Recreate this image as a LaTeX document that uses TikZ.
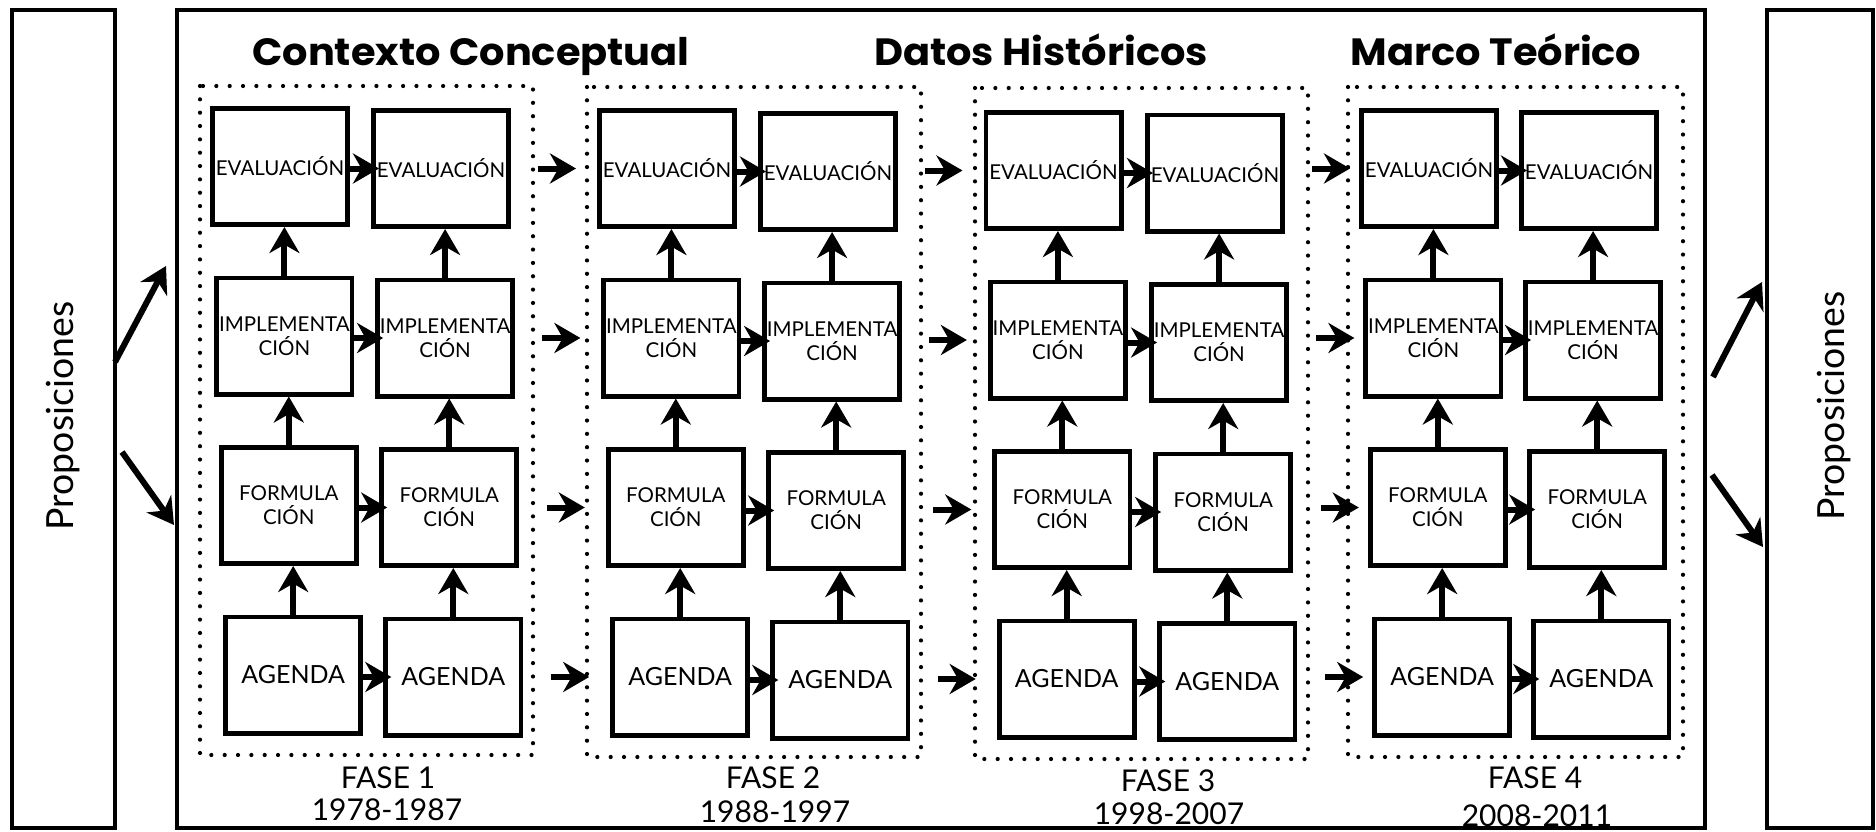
\documentclass[tikz,border=0pt]{standalone}
\usepackage{fontspec}
\setmainfont{Lato}
\newfontfamily\ttlfont{Poppins}
\usetikzlibrary{arrows.meta}
\newcommand\rowtxt[1]{\ifcase#1 EVALUACIÓN\or IMPLEMENTA\\CIÓN\or FORMULA\\CIÓN\or {\fontsize{12.5}{15}\selectfont AGENDA}\fi}
\newcommand\widetitle[1]{\scalebox{1.05}[1]{#1}}
\begin{document}
\begin{tikzpicture}[x=0.5pt,y=-0.5pt,
  frame/.style={draw, line width=2.2pt},
  bx/.style={draw, line width=2.4pt, anchor=north west, minimum width=67.6pt, minimum height=58.1pt, inner sep=0pt, align=center, font=\fontsize{10.25}{12}\selectfont},
  arr/.style={line width=3pt, -{Stealth[length=13pt,width=15pt,inset=4.2pt]}},
  dotf/.style={line width=2.1pt, line cap=round, dash pattern=on 0pt off 6.67pt},
  ttl/.style={anchor=base, font=\fontsize{19}{22}\selectfont\ttlfont\bfseries},
  fase/.style={anchor=base, align=center, font=\fontsize{15}{17}\selectfont},
  prop/.style={anchor=base, rotate=90, font=\fontsize{18.7}{21}\selectfont}]
\useasboundingbox (0,0) rectangle (1876,831);

\node[prop] (propL) at (73,416) {Proposiciones};
\node[prop] (propR) at (1844,406) {Proposiciones};

% titles
\node[ttl] (t1) at (471,65) {\widetitle{Contexto Conceptual}};
\node[ttl] (t2) at (1041,65) {\widetitle{Datos Históricos}};
\node[ttl] (t3) at (1496,65) {\widetitle{Marco Teórico}};

% dotted phase frames
\draw[dotf] (200,86) rectangle (533,755);
\draw[dotf] (587,87) rectangle (921,757);
\draw[dotf] (975,88) rectangle (1308,759);
\draw[dotf] (1348,87) rectangle (1683,757);

% boxes
\foreach \p/\xa/\ya/\xb/\yb in {1/210/106/371/108, 2/597/108/758/111, 3/983.5/110/1145/112.5, 4/1359/108/1519/110}{
  \foreach \r in {0,1,2,3}{
    \node[bx] (a\p\r) at (\xa+4.4*\r, \ya+169.5*\r) {\rowtxt{\r}};
    \node[bx] (b\p\r) at (\xb+4.1*\r, \yb+169.5*\r) {\rowtxt{\r}};
  }
}

% arrows inside phases
\foreach \p in {1,2,3,4}{
  \foreach \r in {0,1,2,3}{
    \draw[arr] (a\p\r.east |- b\p\r.west) -- ([xshift=4pt]b\p\r.west);
  }
  \foreach \r/\s in {1/0,2/1,3/2}{
    \draw[arr] (a\p\r.north) -- (a\p\r.north |- a\p\s.south);
    \draw[arr] (b\p\r.north) -- (b\p\r.north |- b\p\s.south);
  }
}

% arrows between phases
\foreach \p/\g in {2/10.5,3/10.5,4/4.5}{
  \foreach \r in {0,1,2,3}{
    \draw[arr] ([xshift=-\g pt-19pt]a\p\r.west) -- ([xshift=-\g pt]a\p\r.west);
  }
}

% phase labels
\node[fase] (f1) at (388,788) {FASE 1};
\node[fase] (y1) at (387,820) {1978-1987};
\node[fase] (f2) at (773,788) {FASE 2};
\node[fase] (y2) at (775,822) {1988-1997};
\node[fase] (f3) at (1168,791) {FASE 3};
\node[fase] (y3) at (1169,824) {1998-2007};
\node[fase] (f4) at (1535,788) {FASE 4};
\node[fase] (y4) at (1537,826) {2008-2011};

% outer frames (drawn last, over the texts)
\draw[frame] (12,10) rectangle (115,828);
\draw[frame] (177,10) rectangle (1705,828);
\draw[frame] (1767,10) rectangle (1873,828);

% side arrows
\coordinate (lu0) at (115,362);
\coordinate (lu1) at (166,266);
\coordinate (ld0) at (122,452);
\coordinate (ld1) at (174,525);
\coordinate (ru0) at (1713,377);
\coordinate (ru1) at (1762,282);
\coordinate (rd0) at (1712,475);
\coordinate (rd1) at (1763,547);
\draw[arr] (lu0) -- (lu1);
\draw[arr] (ld0) -- (ld1);
\draw[arr] (ru0) -- (ru1);
\draw[arr] (rd0) -- (rd1);
\end{tikzpicture}
\end{document}
